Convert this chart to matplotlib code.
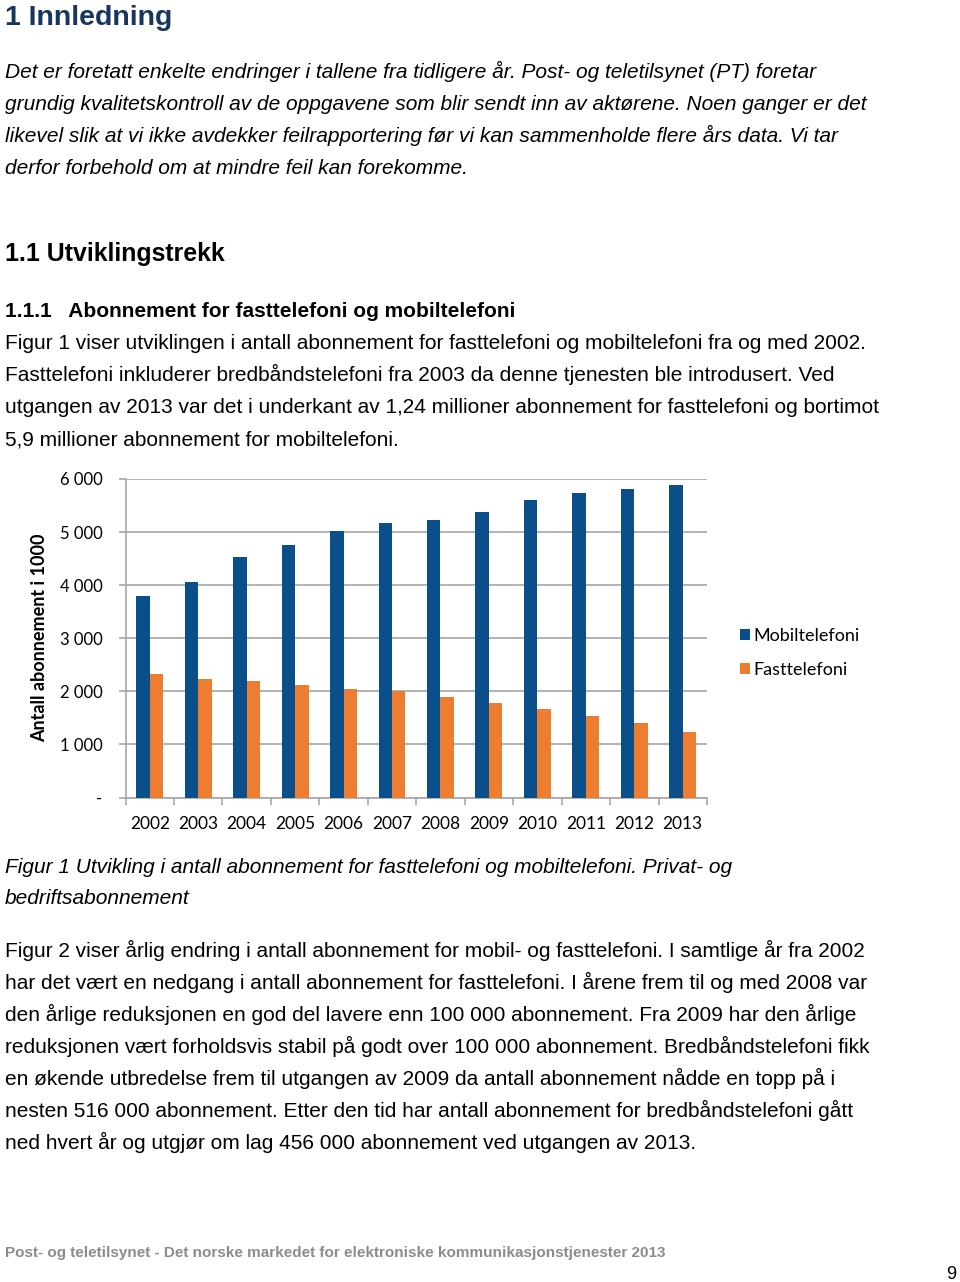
import matplotlib
matplotlib.use("Agg")
import matplotlib.pyplot as plt
import numpy as np

W, H = 960, 1282

years = ["2002", "2003", "2004", "2005", "2006", "2007", "2008", "2009", "2010", "2011", "2012", "2013"]
mobil = [3800, 4060, 4530, 4760, 5020, 5180, 5220, 5370, 5610, 5740, 5810, 5880]
fast = [2330, 2240, 2190, 2120, 2050, 2000, 1900, 1780, 1660, 1530, 1400, 1240]
yticks = [0, 1000, 2000, 3000, 4000, 5000, 6000]
ytick_labels = ["-", "1 000", "2 000", "3 000", "4 000", "5 000", "6 000"]
series_names = ["Mobiltelefoni", "Fasttelefoni"]

heading1 = "1 Innledning"
intro_lines = [
    "Det er foretatt enkelte endringer i tallene fra tidligere år. Post- og teletilsynet (PT) foretar",
    "grundig kvalitetskontroll av de oppgavene som blir sendt inn av aktørene. Noen ganger er det",
    "likevel slik at vi ikke avdekker feilrapportering før vi kan sammenholde flere års data. Vi tar",
    "derfor forbehold om at mindre feil kan forekomme.",
]
heading2 = "1.1 Utviklingstrekk"
heading3 = "1.1.1   Abonnement for fasttelefoni og mobiltelefoni"
para1 = [
    "Figur 1 viser utviklingen i antall abonnement for fasttelefoni og mobiltelefoni fra og med 2002.",
    "Fasttelefoni inkluderer bredbåndstelefoni fra 2003 da denne tjenesten ble introdusert. Ved",
    "utgangen av 2013 var det i underkant av 1,24 millioner abonnement for fasttelefoni og bortimot",
    "5,9 millioner abonnement for mobiltelefoni.",
]
caption = [
    "Figur 1 Utvikling i antall abonnement for fasttelefoni og mobiltelefoni. Privat- og",
    "bedriftsabonnement",
]
para2 = [
    "Figur 2 viser årlig endring i antall abonnement for mobil- og fasttelefoni. I samtlige år fra 2002",
    "har det vært en nedgang i antall abonnement for fasttelefoni. I årene frem til og med 2008 var",
    "den årlige reduksjonen en god del lavere enn 100 000 abonnement. Fra 2009 har den årlige",
    "reduksjonen vært forholdsvis stabil på godt over 100 000 abonnement. Bredbåndstelefoni fikk",
    "en økende utbredelse frem til utgangen av 2009 da antall abonnement nådde en topp på i",
    "nesten 516 000 abonnement. Etter den tid har antall abonnement for bredbåndstelefoni gått",
    "ned hvert år og utgjør om lag 456 000 abonnement ved utgangen av 2013.",
]
footer = "Post- og teletilsynet - Det norske markedet for elektroniske kommunikasjonstjenester 2013"
page_no = "9"

BLUE = "#0B4F8A"
ORANGE = "#ED7D31"
HEAD = "#17365D"
TXT = "Liberation Sans"
CH = "Lato"

fig = plt.figure(figsize=(W / 100, H / 100), dpi=100)

def t(x, y, s, **kw):
    fig.text(x / W, 1 - y / H, s, va="baseline", ha=kw.pop("ha", "left"), **kw)

t(5, 25, heading1, family=TXT, weight="bold", size=20.5, color=HEAD)
for i, s in enumerate(intro_lines):
    t(5, 78 + 32 * i, s, family=TXT, style="italic", size=15, color="black")
t(5, 261, heading2, family=TXT, weight="bold", size=17.9, color="black")
t(5, 317, heading3, family=TXT, weight="bold", size=15, color="black")
for i, s in enumerate(para1):
    t(5, 349 + 32 * i, s, family=TXT, size=15, color="black")
for i, s in enumerate(caption):
    t(5, 873 + 31 * i, s, family=TXT, style="italic", size=15, color="black")
for i, s in enumerate(para2):
    t(5, 957 + 32 * i, s, family=TXT, size=15, color="black")
t(5, 1257, footer, family=TXT, weight="bold", size=11, color="#8C8C8C")
t(956, 1279, page_no, family=TXT, size=13, color="black", ha="right")

# chart axes
left, right, top, bottom = 125.5, 707, 479, 797.5
ax = fig.add_axes([left / W, 1 - bottom / H, (right - left) / W, (bottom - top) / H])
x = np.arange(len(years))
bw = 0.278
ax.bar(x - bw / 2, mobil, bw, color=BLUE, label=series_names[0], zorder=3)
ax.bar(x + bw / 2, fast, bw, color=ORANGE, label=series_names[1], zorder=3)
ax.set_xlim(-0.5, len(years) - 0.5)
ax.set_ylim(0, 6000)
ax.set_yticks(yticks)
ax.set_yticklabels(ytick_labels, family=CH, size=12)
ax.yaxis.grid(True, color="#A6A6A6", linewidth=1.2, zorder=0)
ax.set_xticks(np.arange(-0.5, len(years)), minor=False)
ax.set_xticklabels([""] * (len(years) + 1))
ax.set_xticks(x, minor=True)
ax.set_xticklabels(years, minor=True, family=CH, size=12.5)
ax.tick_params(axis="x", which="major", length=5, color="#A6A6A6", width=1.2)
ax.tick_params(axis="x", which="minor", length=0, pad=13)
ax.tick_params(axis="y", length=5, color="#A6A6A6", width=1.2, pad=11.5)
for sp in ["top", "right"]:
    ax.spines[sp].set_visible(False)
for sp in ["left", "bottom"]:
    ax.spines[sp].set_color("#A6A6A6")
    ax.spines[sp].set_linewidth(1.2)
ax.set_ylabel("Antall abonnement i 1000", family=CH, weight="bold", size=13)
ax.yaxis.set_label_coords(-0.133, 0.5)
for lab in ax.get_yticklabels():
    lab.set_horizontalalignment("right")

leg = ax.legend(loc="upper left", bbox_to_anchor=(1.045, 0.555), frameon=False,
                prop={"family": CH, "size": 13}, handlelength=0.55, handleheight=0.55,
                handletextpad=0.17, labelspacing=1.0, borderaxespad=0)

fig.savefig("out.png", dpi=100)
